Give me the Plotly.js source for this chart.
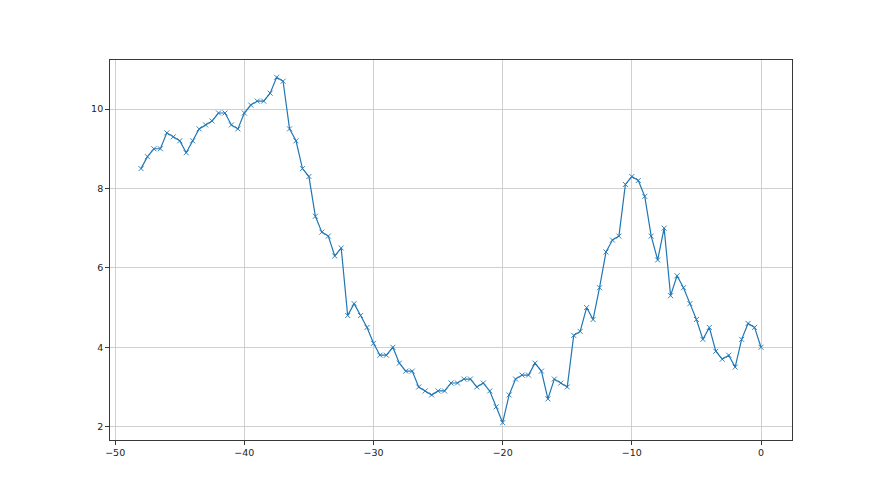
<!DOCTYPE html>
<html>
<head>
<meta charset="utf-8">
<script src="https://cdn.plot.ly/plotly-3.0.1.min.js"></script>
<style>html,body{margin:0;padding:0;background:#fff;}#chart{width:880px;height:495px;}</style>
</head>
<body>
<div id="chart"></div>
<script>
var xStart = -48;
var xStep = 0.5;
var yValues = [
  8.5, 8.8, 9.0, 9.0, 9.4, 9.3, 9.2, 8.9, 9.2, 9.5,
  9.6, 9.7, 9.9, 9.9, 9.6, 9.5, 9.9, 10.1, 10.2, 10.2,
  10.4, 10.8, 10.7, 9.5, 9.2, 8.5, 8.3, 7.3, 6.9, 6.8,
  6.3, 6.5, 4.8, 5.1, 4.8, 4.5, 4.1, 3.8, 3.8, 4.0,
  3.6, 3.4, 3.4, 3.0, 2.9, 2.8, 2.9, 2.9, 3.1, 3.1,
  3.2, 3.2, 3.0, 3.1, 2.9, 2.5, 2.1, 2.8, 3.2, 3.3,
  3.3, 3.6, 3.4, 2.7, 3.2, 3.1, 3.0, 4.3, 4.4, 5.0,
  4.7, 5.5, 6.4, 6.7, 6.8, 8.1, 8.3, 8.2, 7.8, 6.8,
  6.2, 7.0, 5.3, 5.8, 5.5, 5.1, 4.7, 4.2, 4.5, 3.9,
  3.7, 3.8, 3.5, 4.2, 4.6, 4.5, 4.0
];
var xValues = yValues.map(function(_, i){ return xStart + i * xStep; });
var xTicks = [-50, -40, -30, -20, -10, 0];
var yTicks = [2, 4, 6, 8, 10];

var trace = {
  x: xValues, y: yValues, type: 'scatter', mode: 'lines+markers',
  line: {color: '#1f77b4', width: 1.2},
  marker: {symbol: 'x-thin', size: 5, line: {color: '#1f77b4', width: 0.9}, color: '#1f77b4'},
  hoverinfo: 'skip'
};
var axisCommon = {
  showline: true, mirror: true, linecolor: '#222', linewidth: 0.9,
  ticks: 'outside', ticklen: 4, tickwidth: 0.9, tickcolor: '#222',
  showgrid: true, gridcolor: '#c4c4c4', gridwidth: 0.8,
  zeroline: false, tickfont: {family: 'DejaVu Sans', size: 9.5, color: '#222'}
};
var layout = {
  width: 880, height: 495,
  margin: {l: 110, r: 88, t: 60, b: 55},
  paper_bgcolor: '#fff', plot_bgcolor: '#fff',
  showlegend: false,
  xaxis: Object.assign({}, axisCommon, {range: [-50.4, 2.4], tickvals: xTicks}),
  yaxis: Object.assign({}, axisCommon, {range: [1.665, 11.235], tickvals: yTicks})
};
Plotly.newPlot('chart', [trace], layout, {staticPlot: true});
</script>
</body>
</html>
